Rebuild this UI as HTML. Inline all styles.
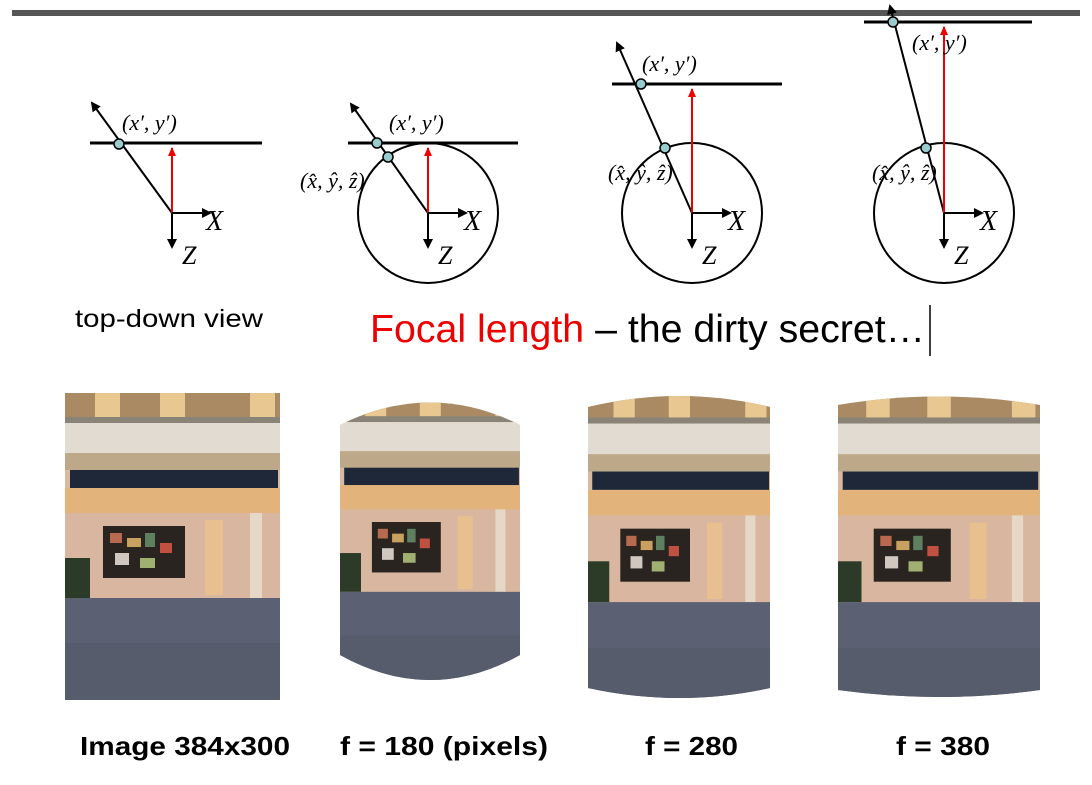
<!DOCTYPE html>
<html><head><meta charset="utf-8"><style>
body{margin:0;background:#fff;width:1092px;height:785px;overflow:hidden;font-family:"Liberation Sans",sans-serif}
svg{position:absolute;left:0;top:0}
</style></head><body>
<svg width="1092" height="785" viewBox="0 0 1092 785">
<defs>
<marker id="ah" markerWidth="10" markerHeight="10" refX="8" refY="5" orient="auto" markerUnits="userSpaceOnUse"><path d="M0,0 L10,5 L0,10 Z" fill="#000"/></marker>
<marker id="ahr" markerWidth="10" markerHeight="10" refX="8" refY="5" orient="auto" markerUnits="userSpaceOnUse"><path d="M0,1 L9,5 L0,9 Z" fill="#e00"/></marker>
<g id="photo">
<rect x="0" y="0" width="215" height="307" fill="#d9b9a0"/>
<rect x="0" y="0" width="215" height="27" fill="#a98a62"/>
<rect x="30" y="0" width="25" height="24" fill="#e8c890"/>
<rect x="95" y="0" width="25" height="24" fill="#e8c890"/>
<rect x="185" y="0" width="25" height="24" fill="#e8c890"/>
<rect x="0" y="24" width="215" height="6" fill="#8a8478"/>
<rect x="0" y="30" width="215" height="30" fill="#e2dbd2"/>
<rect x="0" y="60" width="215" height="17" fill="#bda98a"/>
<rect x="5" y="77" width="208" height="18" fill="#1e2838"/>
<rect x="0" y="95" width="215" height="25" fill="#e2b47c"/>
<rect x="0" y="120" width="215" height="90" fill="#d8b6a0"/>
<rect x="38" y="133" width="82" height="52" fill="#2a2420"/>
<rect x="45" y="140" width="12" height="10" fill="#b86a50"/><rect x="62" y="145" width="14" height="9" fill="#c8a060"/><rect x="80" y="140" width="10" height="14" fill="#5e8060"/><rect x="95" y="150" width="12" height="10" fill="#c05040"/><rect x="50" y="160" width="14" height="12" fill="#d0c8c0"/><rect x="75" y="165" width="15" height="10" fill="#a0b070"/>
<rect x="140" y="127" width="18" height="75" fill="#e8c090"/>
<rect x="185" y="120" width="12" height="85" fill="#e6d8c6"/>
<rect x="0" y="165" width="25" height="40" fill="#2c3a28"/>
<rect x="0" y="205" width="215" height="102" fill="#5b6172"/>
<rect x="0" y="250" width="215" height="57" fill="#565c6c"/>
</g>
<clipPath id="c2"><path d="M340,425 Q430,380 520,425 L520,655 Q430,705 340,655 Z"/></clipPath>
<clipPath id="c3"><path d="M588,407 Q679,385 770,407 L770,688 Q679,708 588,688 Z"/></clipPath>
<clipPath id="c4"><path d="M838,405 Q939,388 1040,405 L1040,690 Q939,704 838,690 Z"/></clipPath>
</defs>
<rect x="12" y="10" width="1068" height="6" fill="#555"/>

<g stroke="#000" fill="none" stroke-width="2">
<line x1="90" y1="143" x2="262" y2="143" stroke-width="3"/>
<line x1="172" y1="213" x2="92" y2="103" marker-end="url(#ah)"/>
<line x1="172" y1="213" x2="172" y2="148" stroke="#e00" marker-end="url(#ahr)"/>
<line x1="172" y1="213" x2="210" y2="213" marker-end="url(#ah)"/>
<line x1="172" y1="213" x2="172" y2="247" marker-end="url(#ah)"/>
<circle cx="119" cy="144" r="5" fill="#9cc" stroke-width="1.5"/>
</g>
<g stroke="#000" fill="none" stroke-width="2">
<circle cx="428" cy="213" r="70"/>
<line x1="348" y1="143" x2="518" y2="143" stroke-width="3"/>
<line x1="428" y1="213" x2="351" y2="104" marker-end="url(#ah)"/>
<line x1="428" y1="213" x2="428" y2="148" stroke="#e00" marker-end="url(#ahr)"/>
<line x1="428" y1="213" x2="466" y2="213" marker-end="url(#ah)"/>
<line x1="428" y1="213" x2="428" y2="247" marker-end="url(#ah)"/>
<circle cx="377" cy="143" r="5" fill="#9cc" stroke-width="1.5"/>
<circle cx="388" cy="157" r="5" fill="#9cc" stroke-width="1.5"/>
</g>
<g stroke="#000" fill="none" stroke-width="2">
<circle cx="692" cy="213" r="70"/>
<line x1="612" y1="84" x2="782" y2="84" stroke-width="3"/>
<line x1="692" y1="213" x2="617" y2="43" marker-end="url(#ah)"/>
<line x1="692" y1="213" x2="692" y2="89" stroke="#e00" marker-end="url(#ahr)"/>
<line x1="692" y1="213" x2="730" y2="213" marker-end="url(#ah)"/>
<line x1="692" y1="213" x2="692" y2="247" marker-end="url(#ah)"/>
<circle cx="641" cy="84" r="5" fill="#9cc" stroke-width="1.5"/>
<circle cx="665" cy="148" r="5" fill="#9cc" stroke-width="1.5"/>
</g>
<g stroke="#000" fill="none" stroke-width="2">
<circle cx="944" cy="213" r="70"/>
<line x1="864" y1="22" x2="1032" y2="22" stroke-width="3"/>
<line x1="944" y1="213" x2="890" y2="6" marker-end="url(#ah)"/>
<line x1="944" y1="213" x2="944" y2="27" stroke="#e00" marker-end="url(#ahr)"/>
<line x1="944" y1="213" x2="982" y2="213" marker-end="url(#ah)"/>
<line x1="944" y1="213" x2="944" y2="247" marker-end="url(#ah)"/>
<circle cx="893" cy="22" r="5" fill="#9cc" stroke-width="1.5"/>
<circle cx="926" cy="148" r="5" fill="#9cc" stroke-width="1.5"/>
</g>
<g font-family="Liberation Serif, serif" font-size="22" fill="#000">
<text x="122" y="130" font-style="italic">(x′, y′)</text>
<text x="206" y="230" font-size="28" font-style="italic">X</text>
<text x="182" y="264" font-size="26" font-style="italic">Z</text>
<text x="389" y="130" font-style="italic">(x′, y′)</text>
<text x="300" y="188" font-style="italic">(x̂, ŷ, ẑ)</text>
<text x="464" y="230" font-size="28" font-style="italic">X</text>
<text x="438" y="264" font-size="26" font-style="italic">Z</text>
<text x="642" y="71" font-style="italic">(x′, y′)</text>
<text x="608" y="180" font-style="italic">(x̂, ŷ, ẑ)</text>
<text x="728" y="230" font-size="28" font-style="italic">X</text>
<text x="702" y="264" font-size="26" font-style="italic">Z</text>
<text x="912" y="50" font-style="italic">(x′, y′)</text>
<text x="872" y="180" font-style="italic">(x̂, ŷ, ẑ)</text>
<text x="980" y="230" font-size="28" font-style="italic">X</text>
<text x="954" y="264" font-size="26" font-style="italic">Z</text>
</g>
<text x="75" y="327" font-size="25" textLength="188" lengthAdjust="spacingAndGlyphs">top-down view</text>
<text x="370" y="342" font-size="39" textLength="555" lengthAdjust="spacingAndGlyphs"><tspan fill="#e00">Focal length</tspan> – the dirty secret…</text>
<line x1="930" y1="305" x2="930" y2="356" stroke="#000" stroke-width="1.5"/>

<g><use href="#photo" transform="translate(65,393)"/></g>
<g clip-path="url(#c2)"><use href="#photo" transform="translate(340,393) scale(0.84,0.97)"/></g>
<g clip-path="url(#c3)"><use href="#photo" transform="translate(588,393) scale(0.85,1.02)"/></g>
<g clip-path="url(#c4)"><use href="#photo" transform="translate(838,393) scale(0.94,1.02)"/></g>

<g font-size="26" font-weight="bold">
<text x="80" y="755" textLength="210" lengthAdjust="spacingAndGlyphs">Image 384x300</text>
<text x="340" y="755" textLength="208" lengthAdjust="spacingAndGlyphs">f = 180 (pixels)</text>
<text x="645" y="755" textLength="93" lengthAdjust="spacingAndGlyphs">f = 280</text>
<text x="896" y="755" textLength="94" lengthAdjust="spacingAndGlyphs">f = 380</text>
</g>
</svg>
</body></html>
